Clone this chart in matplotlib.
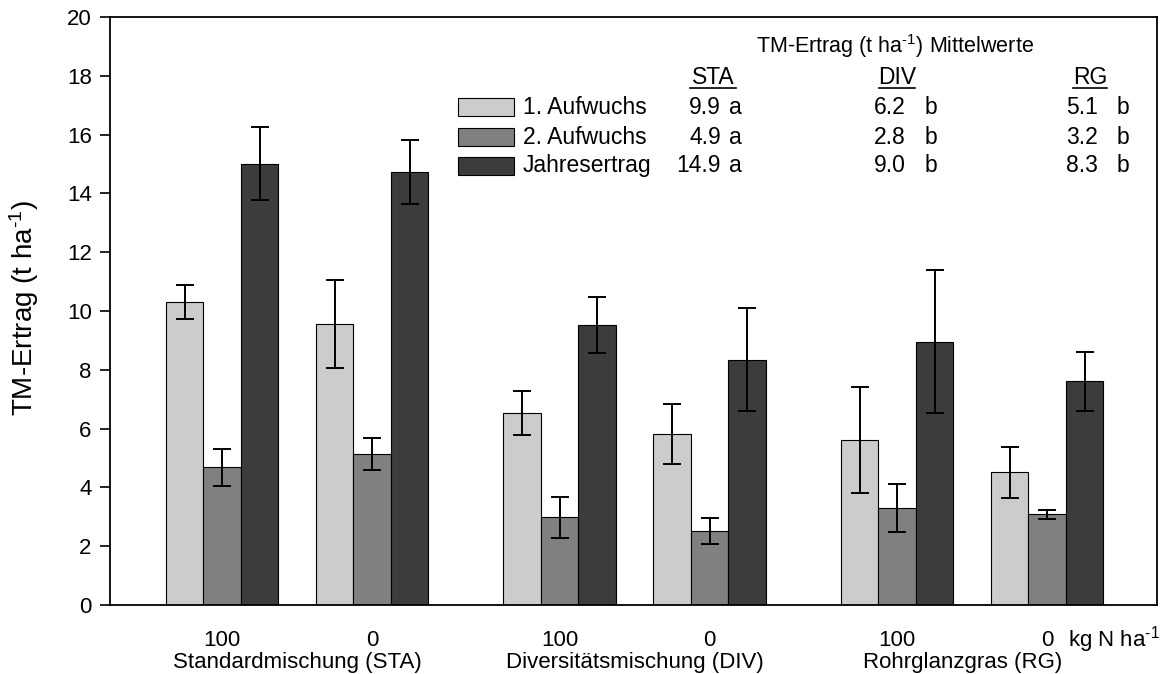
import matplotlib
matplotlib.use("Agg")
import matplotlib.pyplot as plt
from matplotlib.patches import Rectangle
import numpy as np

plt.rcParams['font.family'] = ['Liberation Sans', 'DejaVu Sans']
plt.rcParams['mathtext.fontset'] = 'custom'
plt.rcParams['mathtext.rm'] = 'Liberation Sans'
plt.rcParams['mathtext.it'] = 'Liberation Sans:italic'
plt.rcParams['mathtext.bf'] = 'Liberation Sans:bold'

# ---- data ----
n_levels = ["100", "0", "100", "0", "100", "0"]
mixtures = ["Standardmischung (STA)", "Diversitätsmischung (DIV)", "Rohrglanzgras (RG)"]
series = ["1. Aufwuchs", "2. Aufwuchs", "Jahresertrag"]
aufwuchs1 = [10.31, 9.56, 6.53, 5.81, 5.62, 4.51]
aufwuchs1_err = [0.57, 1.50, 0.74, 1.03, 1.80, 0.88]
aufwuchs2 = [4.68, 5.14, 2.98, 2.52, 3.30, 3.09]
aufwuchs2_err = [0.63, 0.55, 0.69, 0.44, 0.82, 0.15]
jahres = [15.01, 14.73, 9.52, 8.35, 8.95, 7.61]
jahres_err = [1.25, 1.10, 0.96, 1.76, 2.43, 1.00]
mean_cols = ["STA", "DIV", "RG"]
mean_vals = [["9.9", "6.2", "5.1"], ["4.9", "2.8", "3.2"], ["14.9", "9.0", "8.3"]]
mean_letters = [["a", "b", "b"], ["a", "b", "b"], ["a", "b", "b"]]

colors = ["#cccccc", "#808080", "#3c3c3c"]
SUP = r"$^{\text{-1}}$"

W, H = 1169, 674
fig = plt.figure(figsize=(W / 100, H / 100), dpi=100)
ax = fig.add_axes([109.7 / W, 1 - 605 / H, (1156.7 - 109.7) / W, (605 - 17) / H])

centers = np.array([0, 4, 9, 13, 18, 22], dtype=float)
vals = [aufwuchs1, aufwuchs2, jahres]
errs = [aufwuchs1_err, aufwuchs2_err, jahres_err]
for k in range(3):
    ax.bar(centers + (k - 1), vals[k], width=1.0, color=colors[k],
           edgecolor="black", linewidth=0.8, zorder=2,
           yerr=errs[k], capsize=6.3,
           error_kw=dict(elinewidth=1.4, capthick=1.4, ecolor="black", zorder=3))

ax.set_xlim(-3, 24.92)
ax.set_ylim(0, 20)
ax.set_yticks(range(0, 21, 2))
ax.set_xticks(centers)
ax.set_xticklabels(n_levels)
ax.tick_params(axis='x', length=0, pad=18, labelsize=16)
ax.tick_params(axis='y', direction='out', length=7, width=1.2, pad=6, labelsize=16)
for s in ax.spines.values():
    s.set_linewidth(1.3)

ax.set_ylabel("TM-Ertrag (t ha" + SUP + ")", fontsize=20)
ax.yaxis.set_label_coords(-0.066, 0.505)

# group labels
grp_x = [2, 11, 19.75]
for gx, name in zip(grp_x, mixtures):
    ax.text(gx, -0.097, name, transform=ax.get_xaxis_transform(),
            ha="center", va="center", fontsize=16)
ax.text(22.55, -0.058, "kg N ha" + SUP, transform=ax.get_xaxis_transform(),
        ha="left", va="center", fontsize=16)

# legend / mean table (figure pixel coords)
def fx(x):
    return x / W

def fy(y):
    return 1 - y / H

fig.text(fx(756), fy(46), "TM-Ertrag (t ha" + SUP + ") Mittelwerte", ha="left", va="center", fontsize=15.5)
col_centers = [713, 897, 1090]
col_widths = [46, 37, 34]
for cx, cw, name in zip(col_centers, col_widths, mean_cols):
    fig.text(fx(cx), fy(77), name, ha="center", va="center", fontsize=16.5)
    fig.add_artist(plt.Line2D([fx(cx - cw / 2), fx(cx + cw / 2)], [fy(88), fy(88)],
                              color="black", linewidth=1.2, transform=fig.transFigure))

row_y = [107, 137, 166]
num_right = [721, 906, 1098]
let_left = [729, 925, 1117]
for r, (ry, lab) in enumerate(zip(row_y, series)):
    fig.add_artist(Rectangle((fx(458), fy(ry + 9)), fx(56), 18 / H, facecolor=colors[r],
                             edgecolor="black", linewidth=0.8, transform=fig.transFigure))
    fig.text(fx(523), fy(ry), lab, ha="left", va="center", fontsize=16.5)
    for c in range(3):
        fig.text(fx(num_right[c]), fy(ry), mean_vals[r][c], ha="right", va="center", fontsize=16.5)
        fig.text(fx(let_left[c]), fy(ry), mean_letters[r][c], ha="left", va="center", fontsize=16.5)

fig.savefig("out.png", dpi=100)
